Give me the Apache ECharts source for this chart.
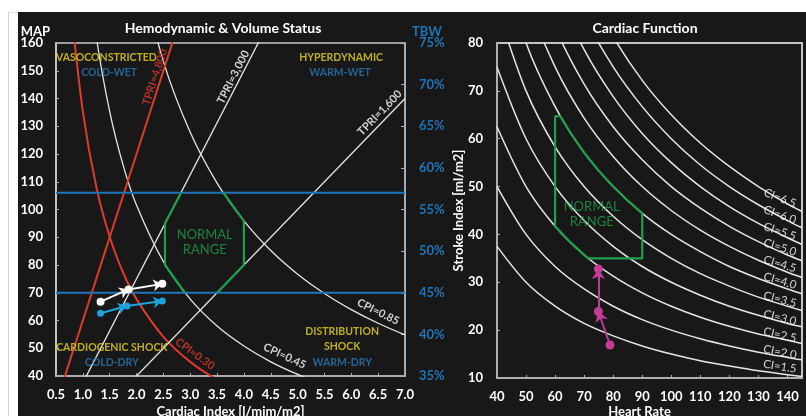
<!DOCTYPE html>
<html>
<head>
<meta charset="utf-8">
<script src="https://cdn.jsdelivr.net/npm/echarts@6/dist/echarts.min.js"></script>
<style>
  html, body { margin: 0; padding: 0; background: #fff; overflow: hidden; }
  #frame { position: absolute; left: 8px; top: 12px; width: 797px; height: 403px; border-left: 1px solid #d0d0d0; border-top: 1px solid #e2e2e2; }
  #panel { position: absolute; left: 18px; top: 12px; width: 788px; height: 404px; background: #181818; }
  #chart { position: absolute; left: 0; top: 0; width: 806px; height: 416px; }
</style>
</head>
<body>
<div id="frame"></div>
<div id="panel"></div>
<div id="chart"></div>
<script>
// ---- left panel: MAP vs cardiac index ----
const cpiGrid = [0.8, 1.0, 1.25, 1.5, 1.75, 2.0, 2.5, 3.0, 3.5, 4.0, 4.5, 5.0, 5.5, 6.0, 6.5, 7.0];
const cpi030 = [169.1, 135.3, 108.2, 90.2, 77.3, 67.7, 54.1, 45.1, 38.7, 33.8, 30.1, 27.1, 24.6, 22.6, 20.8, 19.3];
const cpi045 = [253.8, 203.0, 162.4, 135.3, 116.0, 101.5, 81.2, 67.7, 58.0, 50.8, 45.1, 40.6, 36.9, 33.8, 31.2, 29.0];
const cpi085 = [479.3, 383.4, 306.7, 255.6, 219.1, 191.7, 153.4, 127.8, 109.5, 95.9, 85.2, 76.7, 69.7, 63.9, 59.0, 54.8];
const tpri4800 = [[0.5, 30], [3.0, 180]];
const tpri3000 = [[0.5, 18.8], [5.0, 187.5]];
const tpri1600 = [[0.5, 10], [7.0, 140]];
const tbwLimits = [45, 57];
const normalLeftA = [[2.83, 106], [2.53, 95], [2.53, 80], [2.9, 70]];
const normalLeftB = [[3.5, 70], [4.0, 80], [4.0, 95.9], [3.62, 106]];
const patientWhite = [[1.33, 66.8], [1.85, 71.2], [2.48, 73.2]];
const patientBlue = [[1.33, 62.6], [1.82, 65.2], [2.48, 67.0]];

// ---- right panel: stroke index vs heart rate ----
const heartRates = [40, 50, 60, 70, 80, 90, 100, 110, 120, 130, 140, 145];
const ciLevels = ['1.5', '2.0', '2.5', '3.0', '3.5', '4.0', '4.5', '5.0', '5.5', '6.0', '6.5'];
const strokeIndex = [
  [37.5, 30, 25, 21.4, 18.8, 16.7, 15, 13.6, 12.5, 11.5, 10.7, 10.3],
  [50, 40, 33.3, 28.6, 25, 22.2, 20, 18.2, 16.7, 15.4, 14.3, 13.8],
  [62.5, 50, 41.7, 35.7, 31.3, 27.8, 25, 22.7, 20.8, 19.2, 17.9, 17.2],
  [75, 60, 50, 42.9, 37.5, 33.3, 30, 27.3, 25, 23.1, 21.4, 20.7],
  [87.5, 70, 58.3, 50, 43.8, 38.9, 35, 31.8, 29.2, 26.9, 25, 24.1],
  [100, 80, 66.7, 57.1, 50, 44.4, 40, 36.4, 33.3, 30.8, 28.6, 27.6],
  [112.5, 90, 75, 64.3, 56.3, 50, 45, 40.9, 37.5, 34.6, 32.1, 31.0],
  [125, 100, 83.3, 71.4, 62.5, 55.6, 50, 45.5, 41.7, 38.5, 35.7, 34.5],
  [137.5, 110, 91.7, 78.6, 68.8, 61.1, 55, 50, 45.8, 42.3, 39.3, 37.9],
  [150, 120, 100, 85.7, 75, 66.7, 60, 54.5, 50, 46.2, 42.9, 41.4],
  [162.5, 130, 108.3, 92.9, 81.3, 72.2, 65, 59.1, 54.2, 50, 46.4, 44.8]
];
const ciLabelAnchors = [[137.4, 12.4], [137.4, 15.4], [137.4, 19.0], [137.4, 22.6], [137.4, 26.4], [137.4, 30.3],
  [137.4, 33.8], [137.4, 37.3], [137.4, 40.6], [137.4, 44.1], [137.4, 47.6]];
const normalRight = [[60, 64.7], [61.8, 64.7], [65, 61.5], [70, 57.1], [75, 53.3], [80, 50], [85, 47.1], [90, 44.4],
  [90, 35], [71.4, 35], [65, 38.5], [60, 41.7], [60, 64.7]];
const patientMagenta = [[78.9, 16.9], [74.9, 23.9], [74.9, 32.8]];

// annotations (text, anchored in data coordinates)
const regionLabels = [
  { text: 'VASOCONSTRICTED', at: [1.44, 154.6], tone: 'yellow' },
  { text: 'COLD-WET', at: [1.49, 149.2], tone: 'blue' },
  { text: 'HYPERDYNAMIC', at: [5.81, 154.6], tone: 'yellow' },
  { text: 'WARM-WET', at: [5.79, 149.2], tone: 'blue' },
  { text: 'CARDIOGENIC SHOCK', at: [1.54, 50.1], tone: 'yellow' },
  { text: 'COLD-DRY', at: [1.54, 44.7], tone: 'blue' },
  { text: 'DISTRIBUTION', at: [5.83, 55.9], tone: 'yellow' },
  { text: 'SHOCK', at: [5.83, 50.5], tone: 'yellow' },
  { text: 'WARM-DRY', at: [5.83, 45.0], tone: 'blue' }
];
const curveLabels = [
  { text: 'TPRI=4,800', at: [2.34, 147.7], tilt: 72, tone: 'red' },
  { text: 'TPRI=3,000', at: [3.80, 147.7], tilt: 63, tone: 'white' },
  { text: 'TPRI=1,600', at: [6.53, 134.8], tilt: 46, tone: 'white' },
  { text: 'CPI=0.85', at: [6.50, 63.1], tilt: -26, tone: 'white' },
  { text: 'CPI=0.45', at: [4.76, 47.2], tilt: -25, tone: 'white' },
  { text: 'CPI=0.30', at: [3.09, 47.9], tilt: -36, tone: 'red' }
];
const ciLabelTilt = [-9, -11, -13, -14, -15, -16, -17, -18, -19, -20, -21];

const FONT = 'Lato, "Open Sans", sans-serif';
const C = {
  curve: '#e6e6e6', red: '#dc3b2c', green: '#1f9e4b', tbw: '#1f74b8', yellow: '#e8d51c',
  regionBlue: '#2877b5', cyan: '#1ca3dc', magenta: '#c23b94', white: '#ffffff', axis: '#b0b0b0'
};
const toneColor = { yellow: C.yellow, blue: C.regionBlue, red: C.red, white: C.white };

const chart = echarts.init(document.getElementById('chart'), null, { renderer: 'canvas' });

const pairs = (xs, ys) => xs.map((x, i) => [x, ys[i]]);

function curve(data, color, width, xi, yi, smooth) {
  return {
    type: 'line', xAxisIndex: xi, yAxisIndex: yi, data, symbol: 'none', smooth: smooth || false,
    clip: true, silent: true, lineStyle: { color, width }, z: 3
  };
}

function textLayer(xi, yi, items) {
  return {
    type: 'scatter', xAxisIndex: xi, yAxisIndex: yi, symbolSize: 1, silent: true, z: 8,
    itemStyle: { color: 'transparent' },
    data: items.map(d => ({
      value: d.at,
      label: {
        show: true, position: 'inside', formatter: d.text, rotate: d.tilt || 0,
        color: d.color, fontSize: d.size, fontWeight: d.weight, fontFamily: FONT,
        lineHeight: d.lineHeight || d.size
      }
    }))
  };
}

function arrows(points, color, xi, yi, size) {
  const segs = [];
  for (let i = 0; i < points.length - 1; i++) segs.push({ coords: [points[i], points[i + 1]] });
  return {
    type: 'lines', coordinateSystem: 'cartesian2d', xAxisIndex: xi, yAxisIndex: yi, silent: true, z: 6,
    symbol: ['none', 'arrow'], symbolSize: size,
    lineStyle: { color, width: 2, opacity: 1, curveness: 0 }, data: segs
  };
}

function dots(points, color, xi, yi, size) {
  return {
    type: 'scatter', xAxisIndex: xi, yAxisIndex: yi, data: points, symbol: 'circle', symbolSize: size,
    silent: true, z: 7, itemStyle: { color, opacity: 1 }
  };
}

const axisText = { color: '#ffffff', fontWeight: 'bold', fontSize: 13, fontFamily: FONT };
const tick = { show: true, inside: true, length: 3, lineStyle: { color: C.axis } };

const series = [];
// left panel
series.push(curve(pairs(cpiGrid, cpi030), C.red, 2, 0, 0, 0.3));
series.push(curve(pairs(cpiGrid, cpi045), C.curve, 1.3, 0, 0, 0.3));
series.push(curve(pairs(cpiGrid, cpi085), C.curve, 1.3, 0, 0, 0.3));
series.push(curve(tpri4800, C.red, 2, 0, 0));
series.push(curve(tpri3000, C.curve, 1.3, 0, 0));
series.push(curve(tpri1600, C.curve, 1.3, 0, 0));
tbwLimits.forEach(v => series.push(curve([[0.5, v], [7.0, v]], C.tbw, 2, 0, 1)));
series.push(curve(normalLeftA, C.green, 2.2, 0, 0));
series.push(curve(normalLeftB, C.green, 2.2, 0, 0));
series.push(arrows(patientWhite, C.white, 0, 0, 9));
series.push(arrows(patientBlue, C.cyan, 0, 0, 9));
series.push(dots(patientWhite, C.white, 0, 0, 8));
series.push(dots(patientBlue, C.cyan, 0, 0, 7));
series.push(textLayer(0, 0, regionLabels.map(d => ({ ...d, color: toneColor[d.tone], size: 10.5, weight: 'bold' }))));
series.push(textLayer(0, 0, curveLabels.map(d => ({ ...d, color: toneColor[d.tone], size: 11, weight: 'bold' }))));
series.push(textLayer(0, 0, [{ text: 'NORMAL\nRANGE', at: [3.27, 88.1], color: C.green, size: 13, weight: 'normal', lineHeight: 15 }]));

// right panel
strokeIndex.forEach(row => series.push(curve(pairs(heartRates, row), C.curve, 1.5, 1, 2, 0.3)));
series.push(curve(normalRight, C.green, 2.2, 1, 2));
series.push(arrows(patientMagenta, C.magenta, 1, 2, 10));
series.push(dots(patientMagenta, C.magenta, 1, 2, 9));
series.push(textLayer(1, 2, ciLevels.map((c, i) => ({
  text: 'CI=' + c, at: ciLabelAnchors[i], tilt: ciLabelTilt[i], color: C.white, size: 11.5, weight: 'normal'
}))));
series.push(textLayer(1, 2, [{ text: 'NORMAL\nRANGE', at: [72.6, 44.1], color: C.green, size: 13, weight: 'normal', lineHeight: 15 }]));

const option = {
  backgroundColor: 'transparent',
  animation: false,
  title: [
    { text: 'Hemodynamic & Volume Status', left: 218, top: 16, textAlign: 'center',
      textStyle: { color: '#fff', fontSize: 14, fontWeight: 'bold', fontFamily: FONT } },
    { text: 'Cardiac Function', left: 640, top: 16, textAlign: 'center',
      textStyle: { color: '#fff', fontSize: 14, fontWeight: 'bold', fontFamily: FONT } }
  ],
  grid: [
    { left: 56, top: 43, right: 401, bottom: 40, outerBoundsMode: 'none', containLabel: false,
      show: true, borderColor: '#c8c8c8', borderWidth: 1.5, backgroundColor: 'transparent' },
    { left: 497, top: 43, right: 4, bottom: 38, outerBoundsMode: 'none', containLabel: false,
      show: true, borderColor: '#c4c4c4', borderWidth: 2, backgroundColor: 'transparent' }
  ],
  xAxis: [
    { gridIndex: 0, type: 'value', min: 0.5, max: 7, interval: 0.5,
      name: 'Cardiac Index [l/mim/m2]', nameLocation: 'middle', nameGap: 29, nameMoveOverlap: false, nameTextStyle: axisText,
      axisLine: { show: true, onZero: false, lineStyle: { color: C.axis, width: 1.5 } }, axisTick: tick,
      axisLabel: { ...axisText, margin: 12, formatter: v => v.toFixed(1) }, splitLine: { show: false } },
    { gridIndex: 1, type: 'value', min: 40, max: 145, interval: 10,
      name: 'Heart Rate', nameLocation: 'middle', nameGap: 27, nameMoveOverlap: false,
      nameTextStyle: { ...axisText, padding: [0, 20, 0, 0] },
      axisLine: { show: true, onZero: false, lineStyle: { color: C.axis, width: 2 } }, axisTick: tick,
      axisLabel: { ...axisText, margin: 12, showMaxLabel: false }, splitLine: { show: false } }
  ],
  yAxis: [
    { gridIndex: 0, type: 'value', min: 40, max: 160, interval: 10,
      name: 'MAP', nameLocation: 'end', nameGap: 11, nameMoveOverlap: false,
      nameTextStyle: { ...axisText, align: 'right', verticalAlign: 'middle', padding: [0, 6, 0, 0] },
      axisLine: { show: true, onZero: false, lineStyle: { color: '#d0d0d0', width: 1.5 } }, axisTick: tick,
      axisLabel: { ...axisText, margin: 13 }, splitLine: { show: false } },
    { gridIndex: 0, type: 'value', position: 'right', min: 35, max: 75, interval: 5,
      name: 'TBW', nameLocation: 'end', nameGap: 11, nameMoveOverlap: false,
      nameTextStyle: { ...axisText, color: C.tbw, align: 'left', verticalAlign: 'middle', padding: [0, 0, 0, 7] },
      axisLine: { show: true, onZero: false, lineStyle: { color: '#9db4c6', width: 1.5 } },
      axisTick: { show: true, inside: true, length: 4, lineStyle: { color: '#9db4c6' } },
      axisLabel: { ...axisText, color: C.tbw, margin: 14, formatter: v => v + '%' }, splitLine: { show: false } },
    { gridIndex: 1, type: 'value', min: 10, max: 80, interval: 10,
      name: 'Stroke Index [ml/m2]', nameLocation: 'middle', nameGap: 32, nameMoveOverlap: false, nameTextStyle: axisText,
      axisLine: { show: true, onZero: false, lineStyle: { color: C.axis, width: 2 } }, axisTick: tick,
      axisLabel: { ...axisText, margin: 14 }, splitLine: { show: false } }
  ],
  series
};

chart.setOption(option);
</script>
</body>
</html>
